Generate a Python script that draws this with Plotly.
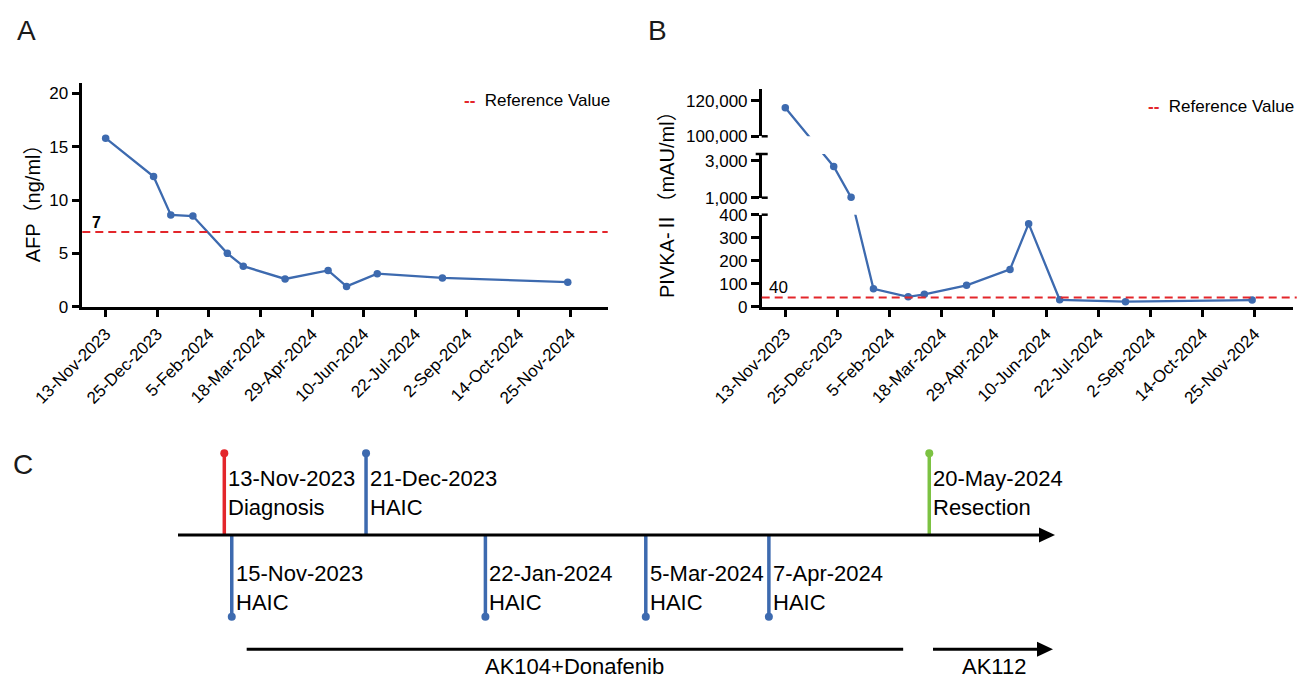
import pandas as pd
import plotly.graph_objects as go

W, H = 1297, 681

# ---------------- data ----------------
sample_dates = ["13-Nov-2023", "22-Dec-2023", "5-Jan-2024", "23-Jan-2024", "20-Feb-2024",
                "4-Mar-2024", "7-Apr-2024", "12-May-2024", "27-May-2024", "21-Jun-2024",
                "13-Aug-2024", "23-Nov-2024"]
afp_values = [15.8, 12.2, 8.6, 8.5, 5.0, 3.8, 2.6, 3.4, 1.9, 3.1, 2.7, 2.3]
pivka_values = [116000, 2700, 1020, 78, 43, 54, 93, 162, 361, 30, 22, 29]
afp_reference = 7
pivka_reference = 40

date_tick_labels = ["13-Nov-2023", "25-Dec-2023", "5-Feb-2024", "18-Mar-2024", "29-Apr-2024",
                    "10-Jun-2024", "22-Jul-2024", "2-Sep-2024", "14-Oct-2024", "25-Nov-2024"]
afp_tick_values = [0, 5, 10, 15, 20]
pivka_segment_limits = [(0, 400), (1000, 3381), (100000, 126400)]
pivka_tick_values = [[0, 100, 200, 300, 400], [1000, 3000], [100000, 120000]]

event_dates = ["13-Nov-2023", "15-Nov-2023", "21-Dec-2023", "22-Jan-2024",
               "5-Mar-2024", "7-Apr-2024", "20-May-2024"]
event_names = ["Diagnosis", "HAIC", "HAIC", "HAIC", "HAIC", "HAIC", "Resection"]
event_sides = [1, -1, 1, -1, -1, -1, 1]
event_kinds = ["diagnosis", "haic", "haic", "haic", "haic", "haic", "resection"]

treatment_names = ["AK104+Donafenib", "AK112"]
treatment_starts = ["19-Nov-2023", "21-May-2024"]
treatment_ends = ["13-May-2024", None]   # None: ongoing (arrow)

# ---------------- styles / geometry ----------------
BLUE = "#3D6AAF"
RED = "#E3262B"
GREEN = "#7CC242"
BLACK = "#000000"
KIND_COLORS = {"diagnosis": RED, "haic": BLUE, "resection": GREEN}
FONT = "Arial, 'Liberation Sans', 'Noto Sans CJK SC', sans-serif"
TICK_FONT = dict(family=FONT, size=17, color=BLACK)
AXIS_W = 2.5


def iso(labels):
    return [d.strftime("%Y-%m-%d") for d in pd.to_datetime(labels, format="%d-%b-%Y")]


def px_x(p):
    return p / W


def px_y(p):
    return 1 - p / H


X_RANGE = ["2023-10-25", "2024-12-25 12:00"]
A_X = (82.3, 607.7)
A_Y = (306.7, 82.7)
B_X = (761.7, 1292.5)
B_SEG_PX = [(306.7, 214.7), (197.7, 154.0), (136.3, 89.3)]
B_ZERO = B_SEG_PX[0][0]

C_X = (178.0, 1055.0)
C_Y = (681.0, 440.0)
C_ORIGIN = pd.Timestamp("2023-11-13")
C_ORIGIN_PX = 224.3
C_PX_PER_DAY = 3.73
C_LINE_PX = 535.0
C_UNIT_PX = 81.7


def c_date_at(px):
    return C_ORIGIN + pd.Timedelta(days=(px - C_ORIGIN_PX) / C_PX_PER_DAY)


def c_level(px):
    return (C_LINE_PX - px) / C_UNIT_PX


def pivka_u(v):
    for (v0, v1), (pb, pt) in reversed(list(zip(pivka_segment_limits, B_SEG_PX))):
        if v >= v0:
            return (B_ZERO - pb) + (v - v0) * (pb - pt) / (v1 - v0)
    return 0.0


dates_iso = iso(sample_dates)
tick_iso = iso(date_tick_labels)

fig = go.Figure()

# ---------------- Panel A ----------------
fig.add_trace(go.Scatter(
    x=dates_iso, y=afp_values, mode="lines+markers", xaxis="x", yaxis="y",
    line=dict(color=BLUE, width=2.3), marker=dict(color=BLUE, size=7.5),
    cliponaxis=False, showlegend=False, name="AFP"))

# ---------------- Panel B (broken axis: three stacked segments) ----------------
pivka_u_values = [pivka_u(v) for v in pivka_values]
for k in range(3):
    fig.add_trace(go.Scatter(
        x=dates_iso, y=pivka_u_values, mode="lines+markers",
        xaxis="x2", yaxis=["y2", "y3", "y4"][k],
        line=dict(color=BLUE, width=2.3), marker=dict(color=BLUE, size=7.5),
        cliponaxis=False, showlegend=False, name="PIVKA-II"))

# ---------------- Panel C timeline ----------------
ev_iso = iso(event_dates)
for d, s, kind in zip(ev_iso, event_sides, event_kinds):
    fig.add_trace(go.Scatter(
        x=[d, d], y=[0, s], mode="lines", xaxis="x3", yaxis="y5",
        line=dict(color=KIND_COLORS[kind], width=3.5), showlegend=False, hoverinfo="skip"))
fig.add_trace(go.Scatter(
    x=ev_iso, y=event_sides, mode="markers", xaxis="x3", yaxis="y5",
    marker=dict(color=[KIND_COLORS[k] for k in event_kinds], size=8),
    cliponaxis=False, showlegend=False, hoverinfo="skip"))

axis_common = dict(showline=True, linecolor=BLACK, linewidth=AXIS_W, ticks="outside",
                   ticklen=8, tickwidth=AXIS_W, tickcolor=BLACK, showgrid=False,
                   zeroline=False, automargin=False, tickfont=TICK_FONT)

layout = dict(
    width=W, height=H, margin=dict(l=0, r=0, t=0, b=0),
    paper_bgcolor="white", plot_bgcolor="white", showlegend=False,
    font=dict(family=FONT, color=BLACK),
    xaxis=dict(domain=[px_x(A_X[0]), px_x(A_X[1])], anchor="y", type="date",
               range=X_RANGE, tickvals=tick_iso, ticktext=date_tick_labels,
               tickangle=-45, **axis_common),
    yaxis=dict(domain=[px_y(A_Y[0]), px_y(A_Y[1])], anchor="x", range=[0, 21],
               tickvals=afp_tick_values, ticktext=[str(v) for v in afp_tick_values],
               **axis_common),
    xaxis2=dict(domain=[px_x(B_X[0]), px_x(B_X[1])], anchor="y2", type="date",
                range=X_RANGE, tickvals=tick_iso, ticktext=date_tick_labels,
                tickangle=-45, **axis_common),
    xaxis3=dict(domain=[px_x(C_X[0]), px_x(C_X[1])], anchor="y5", type="date",
                range=[c_date_at(C_X[0]).isoformat(), c_date_at(C_X[1]).isoformat()],
                visible=False),
    yaxis5=dict(domain=[px_y(C_Y[0]), px_y(C_Y[1])], anchor="x3",
                range=[c_level(C_Y[0]), c_level(C_Y[1])], visible=False),
)
for k, name in enumerate(["yaxis2", "yaxis3", "yaxis4"]):
    pb, pt = B_SEG_PX[k]
    tv = pivka_tick_values[k]
    layout[name] = dict(domain=[px_y(pb), px_y(pt)], anchor="x2",
                        range=[B_ZERO - pb, B_ZERO - pt],
                        tickvals=[pivka_u(v) for v in tv],
                        ticktext=[f"{v:,}" for v in tv], **axis_common)
fig.update_layout(**layout)

shapes = []
# reference lines
shapes.append(dict(type="line", xref="x domain", yref="y", x0=0, x1=1,
                   y0=afp_reference, y1=afp_reference,
                   line=dict(color=RED, width=2, dash="8px,5px")))
shapes.append(dict(type="line", xref="x2 domain", yref="y2", x0=0, x1=1.008,
                   y0=pivka_u(pivka_reference), y1=pivka_u(pivka_reference),
                   line=dict(color=RED, width=2, dash="8px,5px")))
# break caps on the segmented axis
bw = B_X[1] - B_X[0]
cap = 6.0 / bw
for yref, yv, left in [("y2 domain", 1, False), ("y3 domain", 0, False),
                       ("y3 domain", 1, True), ("y4 domain", 0, False)]:
    shapes.append(dict(type="line", xref="x2 domain", yref=yref,
                       x0=-cap if left else 0, x1=cap, y0=yv, y1=yv,
                       line=dict(color=BLACK, width=AXIS_W)))

# timeline main arrow
HEAD_LEN, HEAD_HALF = 16.0, 7.5
shapes.append(dict(type="line", xref="paper", yref="paper",
                   x0=px_x(C_X[0]), x1=px_x(C_X[1] - HEAD_LEN + 2),
                   y0=px_y(C_LINE_PX), y1=px_y(C_LINE_PX),
                   line=dict(color=BLACK, width=3)))


def head_path(tip_x, tip_y):
    return (f"M {px_x(tip_x - HEAD_LEN)},{px_y(tip_y - HEAD_HALF)} "
            f"L {px_x(tip_x)},{px_y(tip_y)} "
            f"L {px_x(tip_x - HEAD_LEN)},{px_y(tip_y + HEAD_HALF)} Z")


shapes.append(dict(type="path", xref="paper", yref="paper", path=head_path(C_X[1], C_LINE_PX),
                   fillcolor=BLACK, line=dict(color=BLACK, width=0)))

# treatment bars
TREAT_PX = 649.3
TREAT_LABEL_PX = 666.0
annotations = []
for name, s, e in zip(treatment_names, treatment_starts, treatment_ends):
    s_d = pd.to_datetime(s, format="%d-%b-%Y")
    if e is None:
        e_line = c_date_at(C_X[1] - HEAD_LEN + 2)
        e_mid = c_date_at(C_X[1])
        shapes.append(dict(type="path", xref="paper", yref="paper",
                           path=head_path(C_X[1] - 2, TREAT_PX),
                           fillcolor=BLACK, line=dict(color=BLACK, width=0)))
    else:
        e_line = pd.to_datetime(e, format="%d-%b-%Y")
        e_mid = e_line
    shapes.append(dict(type="line", xref="x3", yref="y5",
                       x0=s_d.isoformat(), x1=e_line.isoformat(),
                       y0=c_level(TREAT_PX), y1=c_level(TREAT_PX),
                       line=dict(color=BLACK, width=3)))
    mid = s_d + (e_mid - s_d) / 2
    annotations.append(dict(x=mid.isoformat(), y=c_level(TREAT_LABEL_PX), xref="x3", yref="y5",
                            text=name, showarrow=False, xanchor="center", yanchor="middle",
                            font=dict(family=FONT, size=22, color=BLACK)))

# event labels
for lab, d, nm, s in zip(event_dates, ev_iso, event_names, event_sides):
    ypx = 493.3 if s > 0 else 587.5
    annotations.append(dict(x=d, y=c_level(ypx), xref="x3", yref="y5",
                            text=f"{lab}<br>{nm}", showarrow=False, align="left",
                            xanchor="left", yanchor="middle", xshift=2,
                            font=dict(family=FONT, size=22, color=BLACK)))

# reference value labels
annotations.append(dict(x=px_x(96), y=afp_reference, xref="paper", yref="y",
                        text=f"<b>{afp_reference}</b>", showarrow=False,
                        xanchor="center", yanchor="bottom", yshift=-1,
                        font=dict(family=FONT, size=16, color=BLACK)))
annotations.append(dict(x=px_x(778), y=pivka_u(pivka_reference), xref="paper", yref="y2",
                        text=f"{pivka_reference}", showarrow=False,
                        xanchor="center", yanchor="bottom", yshift=-1,
                        font=dict(family=FONT, size=17, color=BLACK)))

# legends (reference value keys)
for lx, ly in [(462.0, 100.0), (1145.5, 106.7)]:
    annotations.append(dict(x=px_x(lx), y=px_y(ly), xref="paper", yref="paper",
                            text=f"<span style='color:{RED}'><b>--</b></span>  Reference Value",
                            showarrow=False, xanchor="left", yanchor="middle",
                            font=dict(family=FONT, size=17, color=BLACK)))

# axis titles
annotations.append(dict(x=px_x(33), y=px_y(198.3), xref="paper", yref="paper",
                        text="AFP（ng/ml）", textangle=-90, showarrow=False,
                        xanchor="center", yanchor="middle",
                        font=dict(family=FONT, size=20, color=BLACK)))
annotations.append(dict(x=px_x(667), y=px_y(200), xref="paper", yref="paper",
                        text="PIVKA-Ⅱ（mAU/ml）", textangle=-90, showarrow=False,
                        xanchor="center", yanchor="middle",
                        font=dict(family=FONT, size=20, color=BLACK)))

# panel letters
for letter, lx, ly in [("A", 26, 30), ("B", 657, 30), ("C", 23, 464.5)]:
    annotations.append(dict(x=px_x(lx), y=px_y(ly), xref="paper", yref="paper",
                            text=letter, showarrow=False, xanchor="center", yanchor="middle",
                            font=dict(family=FONT, size=28, color="#1a1a1a")))

fig.update_layout(shapes=shapes, annotations=annotations)
fig.write_html("out.html", config={"displayModeBar": False},
               post_script="document.body.style.margin='0px';")
